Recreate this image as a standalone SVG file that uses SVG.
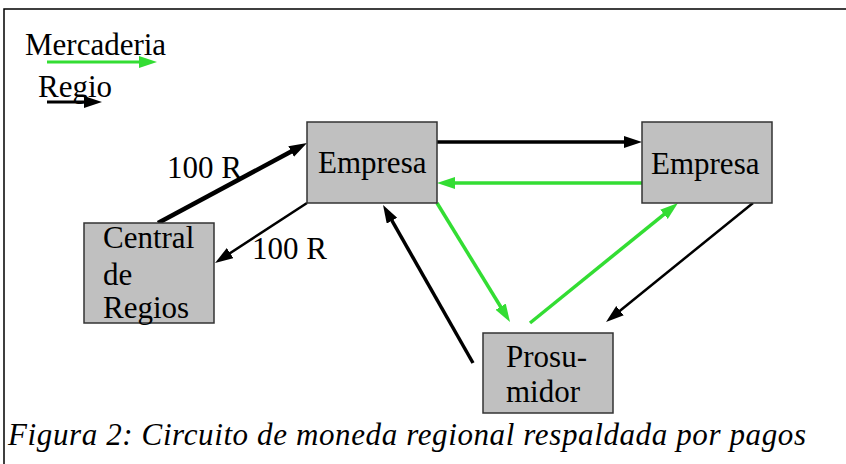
<svg xmlns="http://www.w3.org/2000/svg" width="846" height="464" viewBox="0 0 846 464">
<style>
svg text.t{font-family:"Liberation Serif","Times New Roman",serif !important;font-size:31px;fill:#000}
svg text.cap{font-style:italic}
.box{fill:#c0c0c0;stroke:#333;stroke-width:1.5}
.k{stroke:#000;fill:none;marker-end:url(#ak)}
.g{stroke:#33dd33;fill:none;marker-end:url(#ag)}
</style>
<defs>
<marker id="ak" markerUnits="userSpaceOnUse" markerWidth="20" markerHeight="14" refX="8" refY="6" orient="auto"><path d="M0,0 L18,6 L0,12 Z" fill="#000"/></marker>
<marker id="ag" markerUnits="userSpaceOnUse" markerWidth="20" markerHeight="14" refX="8" refY="6" orient="auto"><path d="M0,0 L18,6 L0,12 Z" fill="#33dd33"/></marker>
</defs>
<rect x="0" y="0" width="846" height="464" fill="#fff"/>
<path d="M4,470 V9 H850" fill="none" stroke="#000" stroke-width="1.5"/>
<g id="legend">
<text class="t" x="25" y="55" style="font-family:'Liberation Serif',serif">Mercaderia</text>
<text class="t" x="38" y="97" style="font-family:'Liberation Serif',serif">Regio</text>
</g>
<g id="connectors">
<line class="g" x1="47" y1="62" x2="147" y2="62" stroke-width="3"/>
<line class="k" x1="47" y1="102" x2="92" y2="102" stroke-width="3"/>
<line class="k" x1="158" y1="223" x2="298.2" y2="147.7" stroke-width="4.5"/>
<line class="k" x1="307" y1="203" x2="223.4" y2="257.5" stroke-width="2.5"/>
<line class="k" x1="437" y1="142" x2="632" y2="142" stroke-width="3.5"/>
<line class="g" x1="642" y1="183" x2="447" y2="183" stroke-width="3.5"/>
<line class="g" x1="437" y1="203" x2="504.8" y2="313.5" stroke-width="3.5"/>
<line class="g" x1="530" y1="323" x2="670.2" y2="209.3" stroke-width="3.5"/>
<line class="k" x1="753" y1="203" x2="613.8" y2="315.7" stroke-width="2.5"/>
<line class="k" x1="473" y1="363" x2="388" y2="213.7" stroke-width="3.5"/>
</g>
<g id="label-100r-a"><text class="t" x="167" y="178" style="font-family:'Liberation Serif',serif">100 R</text></g>
<g id="label-100r-b"><text class="t" x="252" y="259" style="font-family:'Liberation Serif',serif">100 R</text></g>
<g id="empresa1">
<rect class="box" x="307" y="122" width="130" height="81"/>
<text class="t" x="318" y="173" style="font-family:'Liberation Serif',serif">Empresa</text>
</g>
<g id="empresa2">
<rect class="box" x="642" y="122" width="130" height="81"/>
<text class="t" x="651" y="174" style="font-family:'Liberation Serif',serif">Empresa</text>
</g>
<g id="central">
<rect class="box" x="84" y="223" width="130" height="100"/>
<text class="t" x="103" y="248" style="font-family:'Liberation Serif',serif">Central</text>
<text class="t" x="103" y="285" style="font-family:'Liberation Serif',serif">de</text>
<text class="t" x="103" y="318" style="font-family:'Liberation Serif',serif">Regios</text>
</g>
<g id="prosumidor">
<rect class="box" x="483" y="333" width="130" height="80"/>
<text class="t" x="506" y="367" style="font-family:'Liberation Serif',serif">Prosu-</text>
<text class="t" x="506" y="402" style="font-family:'Liberation Serif',serif">midor</text>
</g>
<g id="caption">
<text class="t cap" x="8" y="445" style="font-family:'Liberation Serif',serif;font-style:italic" textLength="798" lengthAdjust="spacing">Figura 2: Circuito de moneda regional respaldada por pagos</text>
</g>
</svg>
